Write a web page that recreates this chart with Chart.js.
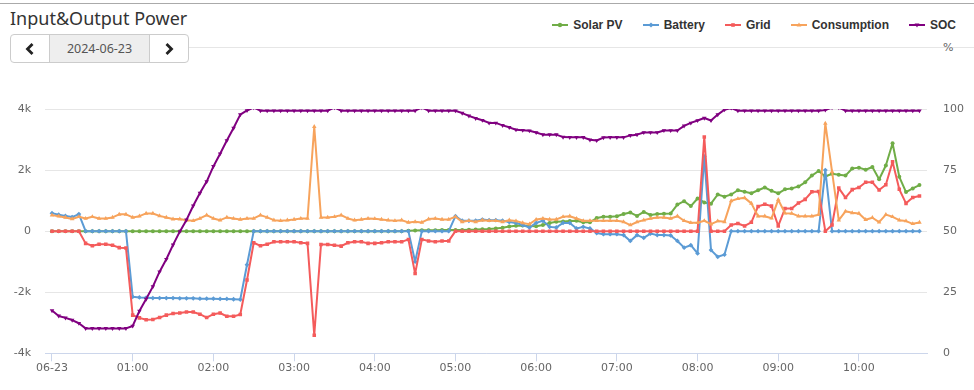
<!DOCTYPE html>
<html>
<head>
<meta charset="utf-8">
<script src="https://cdn.jsdelivr.net/npm/chart.js@4.4.1/dist/chart.umd.min.js"></script>
<style>
  html, body { margin: 0; padding: 0; background: #fff; }
  body { width: 974px; height: 390px; position: relative; overflow: hidden; font-family: "DejaVu Sans", sans-serif; }
  .topline { position: absolute; left: 0; top: 3px; width: 974px; height: 1px; background: #aaa; }
  .title { position: absolute; left: 10px; top: 6px; font: 18px "Noto Sans"; color: #333; white-space: nowrap; }
  .sep { position: absolute; left: 189px; top: 47px; width: 785px; height: 1px; background: #e6e6e6; }
  .picker { position: absolute; left: 10px; top: 34px; width: 179px; height: 29px; box-sizing: border-box;
            border: 1px solid #ccc; border-radius: 4px; display: flex; overflow: hidden; background: #fff; }
  .picker .btn { width: 38px; display: flex; align-items: center; justify-content: center; }
  .picker .date { width: 101px; background: #eee; border-left: 1px solid #ccc; border-right: 1px solid #ccc;
                  display: flex; align-items: center; justify-content: center; font: 12.5px "Noto Sans"; color: #555; }
  .legend { position: absolute; right: 18px; top: 18px; display: flex; gap: 20px; align-items: center; }
  .legend .item { display: flex; align-items: center; }
  .legend span { margin-left: 5px; font: bold 12px "Liberation Sans"; color: #333; white-space: nowrap; }
  .unit { position: absolute; left: 943px; top: 41px; font: 11px "DejaVu Sans"; color: #666; }
  canvas { position: absolute; left: 0; top: 0; }
</style>
</head>
<body>
<div class="topline"></div>
<div class="title">Input&amp;Output Power</div>
<div class="sep"></div>
<div class="picker">
  <div class="btn"><svg width="10" height="14"><polyline points="7.5,2 2.5,7 7.5,12" fill="none" stroke="#222" stroke-width="2.8"/></svg></div>
  <div class="date">2024-06-23</div>
  <div class="btn"><svg width="10" height="14"><polyline points="2.5,2 7.5,7 2.5,12" fill="none" stroke="#222" stroke-width="2.8"/></svg></div>
</div>
<div class="legend" id="legend"></div>
<div class="unit">%</div>
<canvas id="chart" width="974" height="390"></canvas>
<script>
// x grid: one sample every 5 minutes from 00:00
const times = [];
for (let m = 0; m <= 645; m += 5) times.push(m);

const hourTicks = ['06-23', '01:00', '02:00', '03:00', '04:00', '05:00', '06:00', '07:00', '08:00', '09:00', '10:00'];

const seriesNames = ['Solar PV', 'Battery', 'Grid', 'Consumption', 'SOC'];
const seriesColors = ['#70ad47', '#5b9bd5', '#f45b5b', '#f7a35c', '#800080'];

const solarPV = [
  0, 0, 0, 0, 0, 0, 0, 0, 0, 0,
  0, 0, 0, 0, 0, 0, 0, 0, 0, 0,
  0, 0, 0, 0, 0, 0, 0, 0, 0, 0,
  0, 0, 0, 0, 0, 0, 0, 0, 0, 0,
  0, 0, 0, 0, 0, 0, 0, 0, 0, 0,
  0, 0, 0, 15, 25, 30, 30, 30, 35, 35,
  40, 40, 45, 50, 60, 70, 90, 110, 150, 180,
  185, 170, 160, 200, 270, 310, 320, 330, 340, 290,
  290, 430, 470, 470, 490, 560, 610, 500, 630, 530,
  560, 570, 580, 870, 980, 820, 1070, 940, 900, 1200,
  1130, 1200, 1340, 1290, 1240, 1340, 1430, 1320, 1240, 1370,
  1400, 1460, 1600, 1820, 1970, 1790, 1880, 1850, 1820, 2050,
  2080, 2010, 2100, 1700, 2150, 2880, 1780, 1280, 1400, 1510
];

const battery = [
  590, 540, 500, 460, 560, 0, 0, 0, 0, 0,
  0, 0, -2150, -2170, -2180, -2190, -2190, -2190, -2190, -2200,
  -2200, -2200, -2210, -2210, -2210, -2220, -2220, -2230, -2240, -1100,
  0, 0, 0, 0, 0, 0, 0, 0, 0, 0,
  0, 0, 0, 0, 0, 0, 0, 0, 0, 0,
  0, 0, 0, 0, -1000, 0, 0, 0, 0, 0,
  490, 340, 340, 340, 380, 360, 360, 340, 300, 270,
  200, 120, 270, 340, 140, 120, 270, 270, 90, 140,
  90, -60, -100, -100, -100, -130, -320, -130, -220, -80,
  -130, -130, -140, -320, -540, -460, -730, 2450, -620, -840,
  -770, 0, 0, 0, 0, 0, 0, 0, 0, 0,
  0, 0, 0, 0, 0, 2000, 0, 0, 0, 0,
  0, 0, 0, 0, 0, 0, 0, 0, 0, 0
];

const grid = [
  0, 0, 0, 0, 0, -400, -480, -430, -430, -460,
  -540, -550, -2750, -2840, -2900, -2890, -2830, -2750, -2700, -2680,
  -2650, -2650, -2720, -2830, -2720, -2680, -2790, -2790, -2730, -1600,
  -380, -480, -430, -350, -350, -350, -350, -380, -400, -3410,
  -440, -440, -460, -490, -380, -350, -350, -400, -400, -380,
  -350, -350, -350, -270, -1390, -270, -320, -350, -320, -320,
  0, 0, 0, 0, 0, 0, 0, 0, 0, 0,
  0, 0, 0, 0, 0, 0, 0, 0, 0, 0,
  0, 0, 0, 0, 0, 0, 0, 0, 0, 0,
  0, 0, 0, 0, 0, 0, 0, 3080, 0, 0,
  0, 200, 250, 170, 290, 810, 880, 820, 170, 740,
  740, 920, 1040, 1290, 1300, 0, 200, 1410, 1100, 1360,
  1430, 1600, 1600, 1345, 1520, 2270, 1370, 910, 1100, 1150
];

const consumption = [
  525, 490, 450, 400, 470, 415, 470, 415, 415, 450,
  550, 550, 450, 490, 580, 580, 500, 450, 395, 395,
  360, 340, 415, 525, 415, 360, 450, 415, 385, 415,
  415, 525, 450, 360, 340, 360, 385, 415, 415, 3420,
  450, 450, 470, 525, 415, 360, 385, 415, 405, 385,
  360, 340, 360, 285, 305, 285, 395, 415, 385, 385,
  470, 305, 340, 305, 360, 340, 340, 305, 360, 330,
  270, 230, 380, 415, 385, 385, 470, 490, 415, 340,
  340, 340, 340, 340, 340, 305, 200, 300, 360, 415,
  450, 450, 415, 490, 340, 275, 275, 340, 230, 330,
  305, 990, 1060, 1090, 910, 490, 490, 420, 1030, 590,
  580, 490, 490, 490, 540, 3530, 1950, 360, 650, 600,
  580, 375, 440, 295, 540, 470, 360, 330, 240, 285
];

const soc = [
  17.5, 15.3, 14.5, 13.6, 12.3, 10.2, 10.2, 10.2, 10.2, 10.2,
  10.2, 10.2, 11.2, 17.3, 22.2, 27.3, 33.4, 38.5, 44.4, 49.8,
  54.6, 60.4, 65.6, 70.3, 76.5, 81.7, 87.1, 92.2, 97.7, 99.4,
  100.6, 99.3, 99.3, 99.3, 99.3, 99.3, 99.3, 99.3, 99.3, 99.3,
  99.3, 99.3, 100.6, 99.3, 99.3, 99.3, 99.3, 99.3, 99.3, 99.3,
  99.3, 99.3, 99.3, 99.3, 99.3, 100.6, 99.3, 99.3, 99.3, 99.3,
  99.3, 98.3, 97.2, 96.2, 95.4, 94.3, 94.3, 93.3, 92.5, 91.5,
  91.3, 91.1, 90.4, 89.5, 89.5, 89.5, 88.5, 88.4, 88.4, 88.4,
  87.4, 87.1, 88.3, 88.4, 88.4, 88.4, 89.2, 89.5, 90.4, 90.4,
  90.4, 91.2, 91.2, 91.2, 93.1, 94.3, 95.3, 96.3, 95.3, 97.7,
  99.7, 100.4, 99.3, 99.3, 99.3, 99.3, 99.3, 99.3, 99.3, 99.3,
  99.3, 99.3, 99.3, 99.3, 99.3, 99.6, 100.6, 100.6, 99.3, 99.3,
  99.3, 99.3, 99.3, 99.3, 99.3, 99.3, 99.3, 99.3, 99.3, 99.3
];

// highcharts-like marker order: circle, diamond, square, triangle, triangle-down
const markers = [
  { style: 'circle', r: 2, rot: 0 },
  { style: 'rectRot', r: 2.4, rot: 0 },
  { style: 'rect', r: 2.5, rot: 0 },
  { style: 'triangle', r: 2.6, rot: 0 },
  { style: 'triangle', r: 2.6, rot: 180 }
];

const values = [solarPV, battery, grid, consumption, soc];

function pts(arr) {
  return arr.map((v, i) => ({ x: times[i], y: v }));
}

const datasets = values.map((arr, k) => ({
  label: seriesNames[k],
  data: pts(arr),
  yAxisID: k === 4 ? 'y1' : 'y',
  borderColor: seriesColors[k],
  backgroundColor: seriesColors[k],
  borderWidth: 2,
  borderJoinStyle: 'round',
  tension: 0,
  pointStyle: markers[k].style,
  pointRotation: markers[k].rot,
  pointRadius: markers[k].r,
  pointBorderWidth: 0,
  pointBackgroundColor: seriesColors[k],
  order: 5 - k
}));

// legend in html, symbol = line with marker
const legendEl = document.getElementById('legend');
seriesNames.forEach((name, k) => {
  const c = seriesColors[k];
  let mark = '';
  if (k === 0) mark = `<circle cx="8" cy="5" r="2.2" fill="${c}"/>`;
  else if (k === 1) mark = `<polygon points="8,2.4 10.6,5 8,7.6 5.4,5" fill="${c}"/>`;
  else if (k === 2) mark = `<rect x="6.2" y="3.2" width="3.6" height="3.6" fill="${c}"/>`;
  else if (k === 3) mark = `<polygon points="8,2.4 10.4,6.6 5.6,6.6" fill="${c}"/>`;
  else mark = `<polygon points="8,7.6 10.4,3.4 5.6,3.4" fill="${c}"/>`;
  const item = document.createElement('div');
  item.className = 'item';
  item.innerHTML = `<svg width="16" height="10"><line x1="0" y1="5" x2="16" y2="5" stroke="${c}" stroke-width="2"/>${mark}</svg><span>${name}</span>`;
  legendEl.appendChild(item);
});

const tickFont = { family: 'DejaVu Sans', size: 11 };

new Chart(document.getElementById('chart'), {
  type: 'line',
  data: { datasets },
  options: {
    responsive: false,
    animation: false,
    layout: { padding: { top: 109, bottom: 15.5, left: 0, right: 0 } },
    plugins: { legend: { display: false }, tooltip: { enabled: false } },
    scales: {
      x: {
        type: 'linear',
        min: -5.2,
        max: 650.6,
        afterBuildTicks: axis => { axis.ticks = hourTicks.map((_, k) => ({ value: k * 60 })); },
        ticks: {
          autoSkip: false,
          maxRotation: 0,
          padding: 0,
          color: '#666',
          font: tickFont,
          callback: v => hourTicks[Math.round(v / 60)]
        },
        grid: { drawOnChartArea: false, drawTicks: true, tickLength: 8, color: '#ccd6eb' },
        border: { color: '#ccd6eb' }
      },
      y: {
        position: 'left',
        min: -4000,
        max: 4000,
        afterFit: s => { s.width = 45; },
        ticks: {
          stepSize: 2000,
          padding: 14,
          color: '#666',
          font: tickFont,
          callback: v => (v === 0 ? '0' : (v / 1000) + 'k')
        },
        grid: { color: '#e6e6e6', drawTicks: false },
        border: { display: false }
      },
      y1: {
        position: 'right',
        min: 0,
        max: 100,
        afterFit: s => { s.width = 47; },
        ticks: { stepSize: 25, padding: 16, color: '#666', font: tickFont },
        grid: { drawOnChartArea: false, drawTicks: false },
        border: { display: false }
      }
    }
  }
});
</script>
</body>
</html>
